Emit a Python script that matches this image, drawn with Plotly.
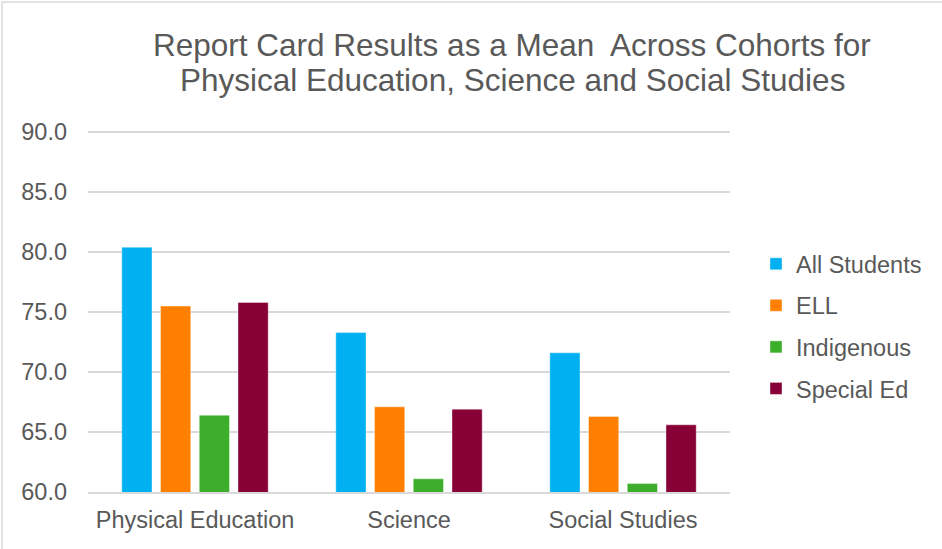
import plotly.graph_objects as go

categories = ["Physical Education", "Science", "Social Studies"]
series_names = ["All Students", "ELL", "Indigenous", "Special Ed"]
all_students = [80.4, 73.3, 71.6]
ell = [75.5, 67.1, 66.3]
indigenous = [66.4, 61.1, 60.7]
special_ed = [75.8, 66.9, 65.6]
tick_vals = [60, 65, 70, 75, 80, 85, 90]
tick_text = ["60.0", "65.0", "70.0", "75.0", "80.0", "85.0", "90.0"]
title_lines = ["Report Card Results as a Mean  Across Cohorts for",
               "Physical Education, Science and Social Studies"]

colors = ["#00B0F0", "#FF8000", "#3DAE2B", "#870036"]
values = [all_students, ell, indigenous, special_ed]

W, H = 942, 549
L, R, T, B = 88, 212, 129, 57
PW, PH = W - L - R, H - T - B

fig = go.Figure()
for name, vals, col in zip(series_names, values, colors):
    fig.add_trace(go.Bar(
        x=categories, y=vals, name=name, legendgroup=name,
        marker=dict(color=col, line=dict(color="rgba(255,255,255,0.4)", width=1)),
    ))

font = "Liberation Sans, Arial, sans-serif"
grey = "#595959"
fs = 23.5

annotations = []
for i, (line, ypx) in enumerate(zip(title_lines, [45, 80])):
    annotations.append(dict(
        text=line, x=512 / W, xref="paper" if False else "paper", y=0, yref="paper",
        showarrow=False, font=dict(family=font, size=31.5, color=grey),
        xanchor="center", yanchor="middle",
    ))
    annotations[-1]["x"] = (512 - L) / PW
    annotations[-1]["y"] = (H - B - ypx) / PH

fig.update_layout(
    width=W, height=H,
    margin=dict(l=L, r=R, t=T, b=B, autoexpand=False),
    paper_bgcolor="white", plot_bgcolor="white",
    barmode="group", bargap=0.276, bargroupgap=0.22,
    font=dict(family=font, color=grey, size=fs),
    annotations=annotations,
    showlegend=True,
    legend=dict(
        x=(756 - L) / PW, xanchor="left",
        y=(H - B - 326.5) / PH, yanchor="middle",
        font=dict(family=font, size=fs, color=grey),
        tracegroupgap=8, traceorder="grouped",
        bgcolor="rgba(0,0,0,0)",
    ),
    xaxis=dict(
        showgrid=False, showline=True, linecolor="#D9D9D9", linewidth=1.5,
        ticks="", tickfont=dict(family=font, size=fs, color=grey),
        ticklabelstandoff=6,
    ),
    yaxis=dict(
        range=[60, 90.25], tickvals=tick_vals, ticktext=tick_text,
        showgrid=True, gridcolor="#D9D9D9", gridwidth=1.5,
        zeroline=False, showline=False, ticks="",
        tickfont=dict(family=font, size=fs, color=grey),
        ticklabelstandoff=20,
    ),
    shapes=[dict(
        type="rect", xref="paper", yref="paper",
        x0=(2 - L) / PW, x1=(W + 5 - L) / PW,
        y0=(H - B - (H + 5)) / PH, y1=(H - B - 2) / PH,
        line=dict(color="#D9D9D9", width=1.5), fillcolor="rgba(0,0,0,0)", layer="below",
    )],
)

fig.write_html("out.html", config={"displayModeBar": False},
               post_script="document.body.style.margin='0';")
